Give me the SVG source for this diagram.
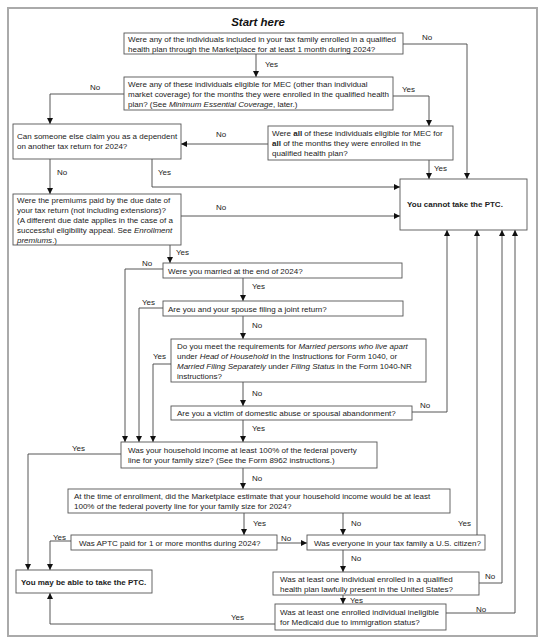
<svg xmlns="http://www.w3.org/2000/svg" width="544" height="644" viewBox="0 0 544 644">
<defs>
<marker id="ah" viewBox="0 0 6 6" refX="6" refY="3" markerWidth="6" markerHeight="6" markerUnits="userSpaceOnUse" orient="auto">
<path d="M0,0 L6,3 L0,6 z" fill="#111"/>
</marker>
</defs>
<style>
.box{fill:#fff;stroke:#555;stroke-width:0.9}
.t{font-family:"Liberation Sans",Arial,sans-serif;font-size:8px;fill:#222}
.b{font-weight:bold}
.i{font-style:italic}
.c{fill:none;stroke:#444;stroke-width:0.9;marker-end:url(#ah)}
.l{font-family:"Liberation Sans",Arial,sans-serif;font-size:8px;fill:#222}
</style>
<rect x="8" y="8" width="529" height="628" fill="#fff" stroke="#aaa" stroke-width="2"/>
<text x="258" y="26" text-anchor="middle" font-family="Liberation Sans,Arial,sans-serif" font-size="11.5" font-weight="bold" font-style="italic" fill="#111">Start here</text>

<g id="connectors">
<path class="c" d="M256,54 V77"/>
<path class="c" d="M403,44 H467 V179"/>
<path class="c" d="M393,96 H429 V126"/>
<path class="c" d="M124,94 H50 V124"/>
<path class="c" d="M268,144 H181"/>
<path class="c" d="M429,160 V179"/>
<path class="c" d="M50,159 V194"/>
<path class="c" d="M152,159 V187 H400"/>
<path class="c" d="M181,216 H400"/>
<path class="c" d="M170,245 V263"/>
<path class="c" d="M163,269 H125 V442"/>
<path class="c" d="M243,278 V301"/>
<path class="c" d="M163,308 H139 V442"/>
<path class="c" d="M243,316 V339"/>
<path class="c" d="M171,364 H153 V442"/>
<path class="c" d="M243,382 V406"/>
<path class="c" d="M412,412 H447 V230"/>
<path class="c" d="M243,420 V442"/>
<path class="c" d="M121,454 H28 V570"/>
<path class="c" d="M243,468 V489"/>
<path class="c" d="M244,513 V535"/>
<path class="c" d="M343,513 V535"/>
<path class="c" d="M71,541 H50 V570"/>
<path class="c" d="M277,543 H307"/>
<path class="c" d="M477,535 V230"/>
<path class="c" d="M343,550 V572"/>
<path class="c" d="M479,583 H502 V230"/>
<path class="c" d="M343,595 V604"/>
<path class="c" d="M446,613 H515 V230"/>
<path class="c" d="M275,624 H50 V593"/>
<text class="l" x="265" y="67">Yes</text>
<text class="l" x="422" y="40">No</text>
<text class="l" x="402" y="92">Yes</text>
<text class="l" x="90" y="90">No</text>
<text class="l" x="216" y="137">No</text>
<text class="l" x="434" y="171">Yes</text>
<text class="l" x="57" y="175">No</text>
<text class="l" x="158" y="175">Yes</text>
<text class="l" x="216" y="210">No</text>
<text class="l" x="176" y="255">Yes</text>
<text class="l" x="142" y="266">No</text>
<text class="l" x="252" y="289">Yes</text>
<text class="l" x="142" y="305">Yes</text>
<text class="l" x="252" y="328">No</text>
<text class="l" x="153" y="359">Yes</text>
<text class="l" x="252" y="396">No</text>
<text class="l" x="420" y="408">No</text>
<text class="l" x="252" y="431">Yes</text>
<text class="l" x="72" y="451">Yes</text>
<text class="l" x="252" y="481">No</text>
<text class="l" x="253" y="526">Yes</text>
<text class="l" x="351" y="526">No</text>
<text class="l" x="53" y="540">Yes</text>
<text class="l" x="281" y="541">No</text>
<text class="l" x="458" y="526">Yes</text>
<text class="l" x="351" y="561">No</text>
<text class="l" x="485" y="579">No</text>
<text class="l" x="350" y="603">Yes</text>
<text class="l" x="476" y="612">No</text>
<text class="l" x="231" y="620">Yes</text>
</g>

<g id="q1">
<rect class="box" x="124" y="33" width="279" height="21"/>
<text class="t" x="128" y="42">Were any of the individuals included in your tax family enrolled in a qualified</text>
<text class="t" x="128" y="51.5">health plan through the Marketplace for at least 1 month during 2024?</text>
</g>
<g id="q2">
<rect class="box" x="124" y="77" width="269" height="33"/>
<text class="t" x="128" y="86.5">Were any of these individuals eligible for MEC (other than individual</text>
<text class="t" x="128" y="96.5">market coverage) for the months they were enrolled in the qualified health</text>
<text class="t" x="128" y="106.5">plan? (See <tspan class="i">Minimum Essential Coverage</tspan>, later.)</text>
</g>
<g id="q3">
<rect class="box" x="13" y="124" width="168" height="35"/>
<text class="t" x="17" y="139">Can someone else claim you as a dependent</text>
<text class="t" x="17" y="149">on another tax return for 2024?</text>
</g>
<g id="q4">
<rect class="box" x="268" y="126" width="185" height="34"/>
<text class="t" x="272" y="136">Were <tspan class="b">all</tspan> of these individuals eligible for MEC for</text>
<text class="t" x="272" y="146"><tspan class="b">all</tspan> of the months they were enrolled in the</text>
<text class="t" x="272" y="156">qualified health plan?</text>
</g>
<g id="q5">
<rect class="box" x="13" y="194" width="168" height="51"/>
<text class="t" x="17" y="202.5">Were the premiums paid by the due date of</text>
<text class="t" x="17" y="212.5">your tax return (not including extensions)?</text>
<text class="t" x="17" y="222.5">(A different due date applies in the case of a</text>
<text class="t" x="17" y="232.5">successful eligibility appeal. See <tspan class="i">Enrollment</tspan></text>
<text class="t" x="17" y="242.5"><tspan class="i">premiums</tspan>.)</text>
</g>
<g id="noptc">
<rect class="box" x="400" y="179" width="127" height="51"/>
<text class="t b" x="407" y="207">You cannot take the PTC.</text>
</g>
<g id="q6">
<rect class="box" x="163" y="263" width="239" height="15"/>
<text class="t" x="168" y="273.5">Were you married at the end of 2024?</text>
</g>
<g id="q7">
<rect class="box" x="163" y="301" width="240" height="15"/>
<text class="t" x="168" y="311.5">Are you and your spouse filing a joint return?</text>
</g>
<g id="q8">
<rect class="box" x="171" y="339" width="255" height="43"/>
<text class="t" x="177" y="348.5">Do you meet the requirements for <tspan class="i">Married persons who live apart</tspan></text>
<text class="t" x="177" y="358.5">under <tspan class="i">Head of Household</tspan> in the Instructions for Form 1040, or</text>
<text class="t" x="177" y="368.5"><tspan class="i">Married Filing Separately</tspan> under <tspan class="i">Filing Status</tspan> in the Form 1040-NR</text>
<text class="t" x="177" y="378.5">instructions?</text>
</g>
<g id="q9">
<rect class="box" x="171" y="406" width="241" height="14"/>
<text class="t" x="177" y="416">Are you a victim of domestic abuse or spousal abandonment?</text>
</g>
<g id="q10">
<rect class="box" x="121" y="442" width="256" height="26"/>
<text class="t" x="128" y="452.5">Was your household income at least 100% of the federal poverty</text>
<text class="t" x="128" y="462.5">line for your family size? (See the Form 8962 instructions.)</text>
</g>
<g id="q11">
<rect class="box" x="68" y="489" width="382" height="24"/>
<text class="t" x="74" y="498.5">At the time of enrollment, did the Marketplace estimate that your household income would be at least</text>
<text class="t" x="74" y="508.5">100% of the federal poverty line for your family size for 2024?</text>
</g>
<g id="q12">
<rect class="box" x="71" y="535" width="206" height="15"/>
<text class="t" x="79" y="545.5">Was APTC paid for 1 or more months during 2024?</text>
</g>
<g id="q14">
<rect class="box" x="307" y="535" width="178" height="15"/>
<text class="t" x="314" y="545.5">Was everyone in your tax family a U.S. citizen?</text>
</g>
<g id="mayptc">
<rect class="box" x="16" y="570" width="136" height="23"/>
<text class="t b" x="21" y="584.5">You may be able to take the PTC.</text>
</g>
<g id="q15">
<rect class="box" x="273" y="572" width="206" height="23"/>
<text class="t" x="280" y="581.5">Was at least one individual enrolled in a qualified</text>
<text class="t" x="280" y="591.5">health plan lawfully present in the United States?</text>
</g>
<g id="q16">
<rect class="box" x="275" y="604" width="171" height="26"/>
<text class="t" x="280" y="614.5">Was at least one enrolled individual ineligible</text>
<text class="t" x="280" y="624.5">for Medicaid due to immigration status?</text>
</g>
</svg>
